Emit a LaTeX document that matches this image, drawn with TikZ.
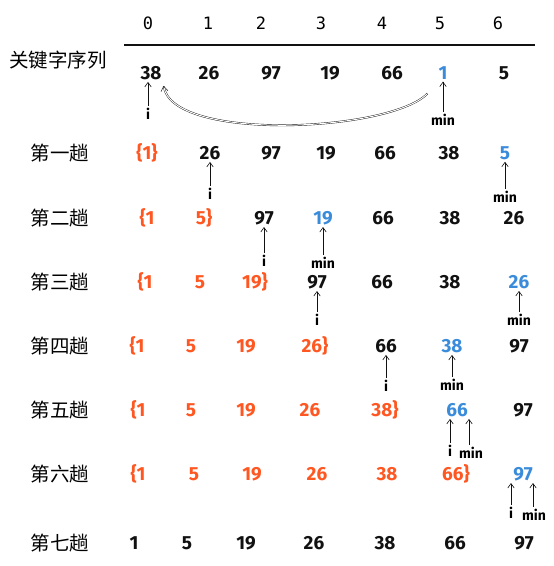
\documentclass[tikz,border=0pt]{standalone}
\usepackage{fontspec}
\setmainfont{Fira Sans}
\setmonofont{DejaVu Sans Mono}
\newfontfamily\cjkfont{Noto Sans CJK SC}
\usepackage{xcolor}
\definecolor{SortOrange}{HTML}{FF5722}
\definecolor{SortBlue}{HTML}{3A8CDB}
\definecolor{SortInk}{HTML}{111111}
\usetikzlibrary{arrows.meta,calc}
\tikzset{
  passlabel/.style={font=\cjkfont\fontsize{19.5}{22}\selectfont,inner sep=0pt},
  idxnum/.style={font=\ttfamily\fontsize{17}{19}\selectfont,inner sep=0pt},
  key/.style={font=\bfseries\fontsize{19}{21}\selectfont,text=SortInk,inner sep=1pt},
  keydone/.style={key,text=SortOrange},
  keymin/.style={key,text=SortBlue},
  ptrname/.style={font=\bfseries\fontsize{14}{16}\selectfont,inner sep=0.5pt},
  ptrflow/.style={-{Straight Barb[length=4.5pt,width=6.5pt]},draw=SortInk,semithick,shorten <=2pt,shorten >=1pt},
  swapflow/.style={-{Straight Barb[length=5pt,width=7pt]},draw=SortInk,double,double distance=1pt,thin}
}

\begin{document}
\begin{tikzpicture}[x=1pt,y=-1pt]
  \useasboundingbox (0,0) rectangle (554,566);
  % index header
  \node[idxnum] (h0) at (148,23) {0};
  \node[idxnum] (h1) at (208,23) {1};
  \node[idxnum] (h2) at (261,23) {2};
  \node[idxnum] (h3) at (321,23) {3};
  \node[idxnum] (h4) at (382,23) {4};
  \node[idxnum] (h5) at (440,23) {5};
  \node[idxnum] (h6) at (498,23) {6};
  \coordinate (ruleL) at (124,45);
  \coordinate (ruleR) at (535,45);
  \draw[SortInk,line width=1.2pt] (ruleL) -- (ruleR);

  % initial keys
  \node[passlabel] (p0) at (58,60) {关键字序列};
  \node[key] (r0c0) at (151,73) {38};
  \node[key] (r0c1) at (209,73) {26};
  \node[key] (r0c2) at (271,73) {97};
  \node[key] (r0c3) at (330,73) {19};
  \node[key] (r0c4) at (392,73) {66};
  \node[keymin] (r0c5) at (443,73) {1};
  \node[key] (r0c6) at (504,73) {5};
  \node[ptrname] (i0) at (148,114) {i};
  \node[ptrname] (m0) at (443,120) {min};
  \draw[ptrflow] (i0) -- (i0 |- r0c0.south);
  \draw[ptrflow] (m0) -- (r0c5);
  \draw[swapflow] ($(r0c5.south west)+(-10,13)$) .. controls (390,132) and (172,142) .. ($(r0c0.south east)+(1,5)$);

  % pass 1
  \node[passlabel] (p1) at (60,153) {第一趟};
  \node[keydone] (r1c0) at (147,153) {\{1\}};
  \node[key] (r1c1) at (210,153) {26};
  \node[key] (r1c2) at (271,153) {97};
  \node[key] (r1c3) at (326,153) {19};
  \node[key] (r1c4) at (385,153) {66};
  \node[key] (r1c5) at (449,153) {38};
  \node[keymin] (r1c6) at (505,153) {5};
  \node[ptrname] (i1) at (210,194) {i};
  \node[ptrname] (m1) at (505,197) {min};
  \draw[ptrflow] (i1) -- (r1c1);
  \draw[ptrflow] (m1) -- (r1c6);

  % pass 2
  \node[passlabel] (p2) at (60,218) {第二趟};
  \node[keydone] (r2c0) at (147,218) {\{1};
  \node[keydone] (r2c1) at (204,218) {5\}};
  \node[key] (r2c2) at (264,218) {97};
  \node[keymin] (r2c3) at (323,218) {19};
  \node[key] (r2c4) at (383,218) {66};
  \node[key] (r2c5) at (450,218) {38};
  \node[key] (r2c6) at (514,218) {26};
  \node[ptrname] (i2) at (264,261) {i};
  \node[ptrname] (m2) at (323,263) {min};
  \draw[ptrflow] (i2) -- (r2c2);
  \draw[ptrflow] (m2) -- (r2c3);

  % pass 3
  \node[passlabel] (p3) at (60,282) {第三趟};
  \node[keydone] (r3c0) at (145,282) {\{1};
  \node[keydone] (r3c1) at (200,282) {5};
  \node[keydone] (r3c2) at (255,282) {19\}};
  \node[key] (r3c3) at (317,282) {97};
  \node[key] (r3c4) at (382,282) {66};
  \node[key] (r3c5) at (450,282) {38};
  \node[keymin] (r3c6) at (519,282) {26};
  \node[ptrname] (i3) at (317,320) {i};
  \node[ptrname] (m3) at (519,320) {min};
  \draw[ptrflow] (i3) -- (r3c3);
  \draw[ptrflow] (m3) -- (r3c6);

  % pass 4
  \node[passlabel] (p4) at (60,346) {第四趟};
  \node[keydone] (r4c0) at (137,346) {\{1};
  \node[keydone] (r4c1) at (191,346) {5};
  \node[keydone] (r4c2) at (246,346) {19};
  \node[keydone] (r4c3) at (315,346) {26\}};
  \node[key] (r4c4) at (386,346) {66};
  \node[keymin] (r4c5) at (452,346) {38};
  \node[key] (r4c6) at (519,346) {97};
  \node[ptrname] (i4) at (386,386) {i};
  \node[ptrname] (m4) at (452,385) {min};
  \draw[ptrflow] (i4) -- (r4c4);
  \draw[ptrflow] (m4) -- (r4c5);

  % pass 5
  \node[passlabel] (p5) at (60,410) {第五趟};
  \node[keydone] (r5c0) at (138,410) {\{1};
  \node[keydone] (r5c1) at (191,410) {5};
  \node[keydone] (r5c2) at (246,410) {19};
  \node[keydone] (r5c3) at (310,410) {26};
  \node[keydone] (r5c4) at (385,410) {38\}};
  \node[keymin] (r5c5) at (457,410) {66};
  \node[key] (r5c6) at (523,410) {97};
  \node[ptrname] (i5) at (450,451) {i};
  \node[ptrname] (m5) at (471,453) {min};
  \draw[ptrflow] (i5) -- (i5 |- r5c5.south);
  \draw[ptrflow] ([xshift=-2pt]m5.north) -- ([xshift=-2pt]m5.north |- r5c5.south);

  % pass 6
  \node[passlabel] (p6) at (60,474) {第六趟};
  \node[keydone] (r6c0) at (138,474) {\{1};
  \node[keydone] (r6c1) at (194,474) {5};
  \node[keydone] (r6c2) at (252,474) {19};
  \node[keydone] (r6c3) at (317,474) {26};
  \node[keydone] (r6c4) at (387,474) {38};
  \node[keydone] (r6c5) at (456,474) {66\}};
  \node[keymin] (r6c6) at (523,474) {97};
  \node[ptrname] (i6) at (511,513) {i};
  \node[ptrname] (m6) at (534,515) {min};
  \draw[ptrflow] (i6) -- (i6 |- r6c6.south);
  \draw[ptrflow] ([xshift=-1pt]m6.north) -- ([xshift=-1pt]m6.north |- r6c6.south);

  % pass 7
  \node[passlabel] (p7) at (60,543) {第七趟};
  \node[key] (r7c0) at (134,543) {1};
  \node[key] (r7c1) at (187,543) {5};
  \node[key] (r7c2) at (246,543) {19};
  \node[key] (r7c3) at (314,543) {26};
  \node[key] (r7c4) at (385,543) {38};
  \node[key] (r7c5) at (455,543) {66};
  \node[key] (r7c6) at (524,543) {97};
\end{tikzpicture}
\end{document}
